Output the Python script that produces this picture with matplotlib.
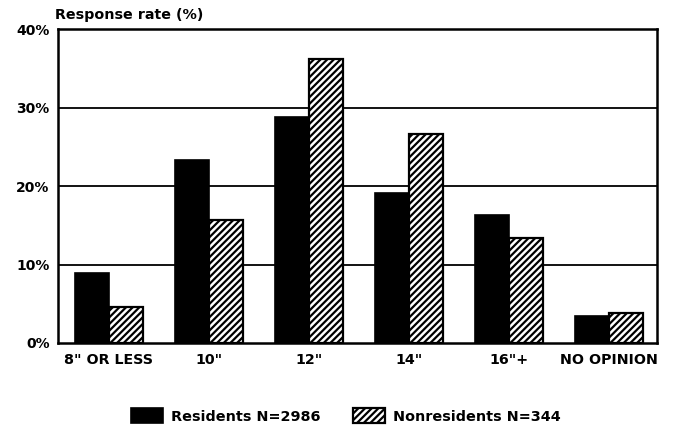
import matplotlib
matplotlib.use('Agg')
import matplotlib.pyplot as plt
import numpy as np

# values
categories = ['8" OR LESS', '10"', '12"', '14"', '16"+', 'NO OPINION']
residents = [8.9, 23.3, 28.8, 19.1, 16.3, 3.4]
nonresidents = [4.6, 15.7, 36.2, 26.6, 13.4, 3.8]
y_ticks = [0, 10, 20, 30, 40]
y_tick_labels = ['0%', '10%', '20%', '30%', '40%']
legend_labels = ['Residents N=2986', 'Nonresidents N=344']

plt.rcParams['font.family'] = ['DejaVu Sans']
plt.rcParams['font.weight'] = 'bold'
plt.rcParams['hatch.linewidth'] = 1.6

fig = plt.figure(figsize=(6.74, 4.29), dpi=100)
ax = fig.add_axes([0.086, 0.2005, 0.889, 0.7315])

x = np.arange(len(categories))
width = 0.34

# grid lines behind the bars
for t in y_ticks[1:-1]:
    ax.axhline(t, color='black', linewidth=1.3, zorder=0)

ax.bar(x - width / 2, residents, width, color='black', edgecolor='black',
       linewidth=1.2, label=legend_labels[0], zorder=2)
ax.bar(x + width / 2, nonresidents, width, color='white', edgecolor='black',
       hatch='/////', linewidth=1.6, label=legend_labels[1], zorder=2)

ax.set_xlim(-0.51, 5.48)
ax.set_ylim(0, 40)
ax.set_yticks(y_ticks)
ax.set_yticklabels(y_tick_labels, fontsize=10, fontweight='bold')
ax.set_xticks(x)
ax.set_xticklabels(categories, fontsize=10.3, fontweight='bold')
ax.tick_params(length=0, pad=6)
ax.tick_params(axis='x', pad=7)

for spine in ax.spines.values():
    spine.set_linewidth(1.8)

fig.text(0.082, 0.965, 'Response rate (%)', fontsize=10.3, fontweight='bold',
         ha='left', va='center')

fig.legend(loc='center', bbox_to_anchor=(346 / 674, 1 - 416 / 429), ncol=2,
           frameon=False, fontsize=10.4, handlelength=2.2, handleheight=1.2,
           columnspacing=2.3, handletextpad=0.55)

fig.savefig('out.png', dpi=100)
